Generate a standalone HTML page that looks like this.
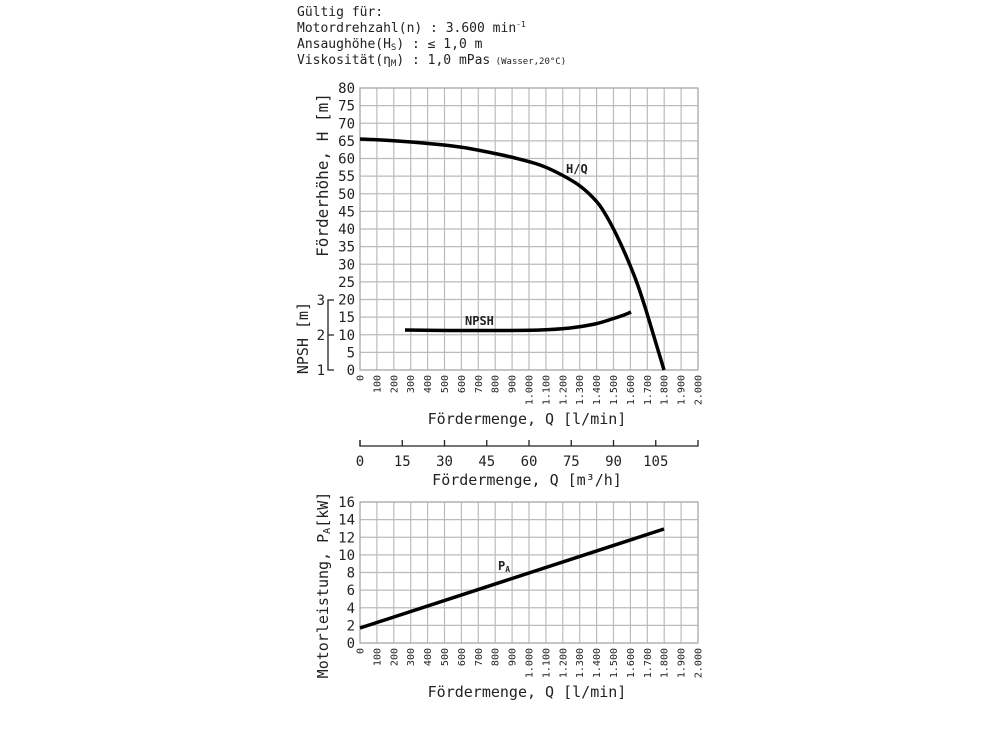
<!DOCTYPE html>
<html><head><meta charset="utf-8"><style>
body{margin:0;background:#fff;width:1000px;height:750px;overflow:hidden}
svg{display:block}
text{font-family:"DejaVu Sans Mono","Liberation Mono",monospace;fill:#222}
</style></head><body>
<svg id="s" width="1000" height="750" xmlns="http://www.w3.org/2000/svg">
<g font-size="13">
<text x="297" y="16">Gültig für:</text>
<text x="297" y="32">Motordrehzahl(n) : 3.600 min<tspan font-size="8" dy="-5">-1</tspan></text>
<text x="297" y="48">Ansaughöhe(H<tspan font-size="9" dy="2">S</tspan><tspan dy="-2">) : ≤ 1,0 m</tspan></text>
<text x="297" y="64">Viskosität(η<tspan font-size="9" dy="2">M</tspan><tspan dy="-2">) : 1,0 mPas</tspan><tspan font-size="9"> (Wasser,20°C)</tspan></text>
</g>
<g id="g"></g>
<path id="hq" fill="none" stroke="#000" stroke-width="3.5" stroke-linejoin="round"/>
<path id="np" fill="none" stroke="#000" stroke-width="3.5" stroke-linejoin="round"/>
<line x1="360" y1="628" x2="664" y2="529" stroke="#000" stroke-width="3.5"/>
<text x="566" y="173" font-size="12" font-weight="bold">H/Q</text>
<text x="465" y="325" font-size="12" font-weight="bold">NPSH</text>
<text x="498" y="570" font-size="12" font-weight="bold">P<tspan font-size="8" dy="2">A</tspan></text>
<g font-size="15" text-anchor="middle">
<text transform="translate(328,175) rotate(-90)" font-size="16">Förderhöhe, H [m]</text>
<text transform="translate(308,338) rotate(-90)">NPSH [m]</text>
<text transform="translate(328,585) rotate(-90)">Motorleistung, P<tspan font-size="10" dy="2">A</tspan><tspan dy="-2">[kW]</tspan></text>
<text x="527" y="424">Fördermenge, Q [l/min]</text>
<text x="527" y="485">Fördermenge, Q [m³/h]</text>
<text x="527" y="697">Fördermenge, Q [l/min]</text>
</g>
<g stroke="#222" stroke-width="1.3" fill="none">
<path d="M334,300 H328 V370 H334 M328,335 H334"/>
<path d="M360,440 V446 H698 V440"/>
</g>
<g font-size="14" text-anchor="end">
<text x="325" y="305">3</text><text x="325" y="340">2</text><text x="325" y="375">1</text>
</g>
</svg>
<script>
const g=document.getElementById('g');const NS='http://www.w3.org/2000/svg';
function el(t,a,txt){const e=document.createElementNS(NS,t);for(const k in a)e.setAttribute(k,a[k]);if(txt!=null)e.textContent=txt;g.appendChild(e);return e;}
function grid(top,bot,n,labStep){
  const L=360,R=698;
  for(let i=0;i<=20;i++){const x=L+(R-L)*i/20;el('line',{x1:x,y1:top,x2:x,y2:bot,stroke:'#bbb','stroke-width':1.2});}
  for(let j=0;j<=n;j++){const y=top+(bot-top)*j/n;el('line',{x1:L,y1:y,x2:R,y2:y,stroke:'#bbb','stroke-width':1.2});
    el('text',{x:355,y:y+5,'font-size':14,'text-anchor':'end'},String((n-j)*labStep));}
  el('rect',{x:L,y:top,width:R-L,height:bot-top,fill:'none',stroke:'#aaa','stroke-width':1.2});
  for(let i=0;i<=20;i++){const x=L+(R-L)*i/20;const v=i*100;const s=v>=1000?(Math.floor(v/1000)+'.'+String(v%1000).padStart(3,'0')):String(v);
    el('text',{transform:`translate(${x+3.5},${bot+5}) rotate(-90)`,'font-size':10,'text-anchor':'end'},s);}
}
grid(88,370,16,5);
grid(502,643,8,2);
for(let i=0;i<8;i++){const x=360+(698-360)*i*15/120;
  el('line',{x1:x,y1:440,x2:x,y2:446,stroke:'#222','stroke-width':1.3});el('text',{x:x,y:466,'font-size':14,'text-anchor':'middle'},String(i*15));}
function cr(p){let d='M'+p[0][0]+','+p[0][1];for(let i=0;i<p.length-1;i++){const p0=p[i-1]||p[i],p1=p[i],p2=p[i+1],p3=p[i+2]||p2;
 d+=` C${p1[0]+(p2[0]-p0[0])/6},${p1[1]+(p2[1]-p0[1])/6} ${p2[0]-(p3[0]-p1[0])/6},${p2[1]-(p3[1]-p1[1])/6} ${p2[0]},${p2[1]}`;}return d;}
document.getElementById('hq').setAttribute('d',cr([[360,139],[390,140.5],[423,143],[460,147],[490,152.5],[515,158],[540,165],[560,174],[580,186],[597,202],[607,217],[617,236],[627,258],[637,283],[645,307],[652,330],[658,350],[664,370]]));
document.getElementById('np').setAttribute('d',cr([[405,330],[450,330.5],[500,330.5],[540,330],[570,328],[595,324],[612,319],[624,315],[631,312]]));
</script>
</body></html>
